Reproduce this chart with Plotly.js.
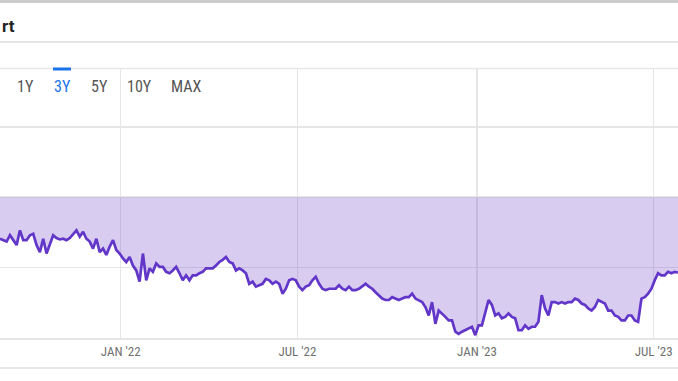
<!DOCTYPE html>
<html>
<head>
<meta charset="utf-8">
<script src="https://cdn.plot.ly/plotly-3.0.1.min.js"></script>
<style>
  html, body { margin: 0; padding: 0; background: #ffffff; }
  #chart { width: 678px; height: 381px; }
</style>
</head>
<body>
<div id="chart"></div>
<script>
// ---- data ----
const seriesStart = '2021-08-30 08:24';   // date of the first sample
const sampleStepDays = 3.4047;            // spacing of the samples
const priceValues = [
  24.1,23.9,23.7,24.6,23.9,23.2,25.3,23.9,23.9,24.6,24.8,23.2,22.2,24.1,22.0,23.2,24.6,24.2,24.0,24.1,23.9,24.2,24.8,25.3,24.4,25.1,24.1,23.7,22.7,24.1,22.2,22.7,21.8,23.0,
  23.9,22.5,22.0,21.3,20.8,21.5,20.3,19.6,18.0,22.0,18.2,19.9,19.4,20.6,20.1,20.1,19.4,19.2,19.6,20.1,19.2,18.2,18.9,18.2,18.9,18.9,19.2,19.4,19.9,19.9,19.9,20.3,20.8,21.1,
  21.5,20.8,20.6,19.6,19.9,19.6,19.2,17.7,18.0,17.3,17.5,17.7,18.4,18.2,17.7,18.0,17.7,16.3,17.0,18.2,18.4,18.2,17.3,16.8,17.3,17.5,18.2,18.7,17.7,17.0,16.8,17.0,17.0,17.0,
  17.5,17.0,16.8,17.3,16.8,16.8,17.0,17.3,17.7,17.3,17.0,16.5,16.1,15.6,15.4,15.4,15.8,15.6,15.4,15.6,15.8,15.8,16.3,15.6,15.4,15.1,14.4,13.2,15.1,12.0,13.9,13.5,13.0,12.5,
  12.5,10.9,10.6,10.9,11.1,11.3,11.6,10.4,11.8,11.8,13.7,15.4,14.7,13.2,13.5,12.8,13.0,13.5,13.0,12.8,11.1,11.1,11.8,11.3,11.6,11.6,12.3,16.1,14.2,13.2,15.1,15.1,14.9,15.1,
  14.9,15.1,15.1,15.6,15.4,14.9,14.7,14.2,13.9,14.4,15.4,15.1,14.9,13.9,13.9,13.2,13.0,12.5,12.5,13.2,13.2,12.5,12.3,15.6,15.8,16.3,17.0,18.2,19.2,18.9,18.9,19.4,19.2,19.4,19.3
];
const bandTop = 30;                        // upper edge of the shaded band
const tickDates = ['2022-01-01', '2022-07-01', '2023-01-01', '2023-07-01'];
const tickLabels = ["JAN '22", "JUL '22", "JAN '23", "JUL '23"];
const rangeButtons = ['1Y', '3Y', '5Y', '10Y', 'MAX'];
const activeButton = '3Y';
const headerText = 'rt';
const xRange = ['2021-08-30 08:24', '2023-07-25 21:50'];
const yRange = [10, 48.36];

// ---- helpers ----
function fmt(d) {
  const p = n => String(n).padStart(2, '0');
  return d.getUTCFullYear() + '-' + p(d.getUTCMonth() + 1) + '-' + p(d.getUTCDate()) + ' ' +
         p(d.getUTCHours()) + ':' + p(d.getUTCMinutes());
}
const t0 = Date.parse(seriesStart.replace(' ', 'T') + ':00Z');
const sampleDates = priceValues.map((_, i) => fmt(new Date(t0 + i * sampleStepDays * 86400000)));

const W = 678, H = 381, MT = 68, MB = 43;
const PH = H - MT - MB;
const px = x => x / W;                      // pixel -> paper x
const py = y => (H - MB - y) / PH;          // pixel -> paper y

const condensed = '"Roboto Condensed", "DejaVu Sans Condensed", "Liberation Sans Narrow", Roboto, sans-serif';

const traces = [
  {
    x: [sampleDates[0], sampleDates[sampleDates.length - 1]],
    y: [bandTop, bandTop],
    mode: 'lines', line: { width: 0, color: 'rgba(0,0,0,0)' },
    hoverinfo: 'skip', showlegend: false
  },
  {
    x: sampleDates, y: priceValues,
    mode: 'lines',
    line: { color: '#6236c8', width: 2.7 },
    fill: 'tonexty', fillcolor: 'rgba(103,58,200,0.26)',
    showlegend: false
  }
];

const btnCenters = { '1Y': 25.5, '3Y': 62, '5Y': 99, '10Y': 139, 'MAX': 186 };
const annotations = rangeButtons.map(b => ({
  text: b, xref: 'paper', yref: 'paper',
  x: px(btnCenters[b]), y: py(86), xanchor: 'center', yanchor: 'middle',
  showarrow: false,
  font: { family: condensed, size: 16, color: b === activeButton ? '#1a73e8' : '#555555' }
}));
annotations.push({
  text: '<b>' + headerText + '</b>', xref: 'paper', yref: 'paper',
  x: px(0), y: py(26), xanchor: 'left', yanchor: 'middle', showarrow: false,
  font: { family: 'Roboto, sans-serif', size: 17, color: '#222222' }
});

const shapes = [
  { type: 'rect', xref: 'paper', yref: 'paper', x0: 0, x1: 1, y0: py(0), y1: py(3),
    fillcolor: '#cccccc', line: { width: 0 } },
  { type: 'line', xref: 'paper', yref: 'paper', x0: 0, x1: 1, y0: py(42), y1: py(42),
    line: { color: '#dcdcdc', width: 1.5 } },
  { type: 'line', xref: 'paper', yref: 'paper', x0: 0, x1: 1, y0: py(68.5), y1: py(68.5),
    line: { color: '#e8e8e8', width: 1.5 } },
  { type: 'rect', xref: 'paper', yref: 'paper', x0: px(53), x1: px(71), y0: py(70.5), y1: py(67.5),
    fillcolor: '#1a73e8', line: { width: 0 } },
  { type: 'line', xref: 'paper', yref: 'paper', x0: 0, x1: 1, y0: py(368), y1: py(368),
    line: { color: '#e0e0e0', width: 1.5 } }
];

const layout = {
  width: W, height: H,
  margin: { l: 0, r: 0, t: MT, b: MB, pad: 0 },
  paper_bgcolor: '#ffffff', plot_bgcolor: '#ffffff',
  showlegend: false,
  xaxis: {
    type: 'date', range: xRange,
    tickvals: tickDates, ticktext: tickLabels,
    showgrid: true, gridcolor: '#e6e6e6', gridwidth: 1.5,
    showline: true, linecolor: '#e6e6e6', linewidth: 2,
    ticks: '', zeroline: false,
    tickfont: { family: condensed, size: 13, color: '#6f6f6f' },
    fixedrange: true
  },
  yaxis: {
    range: yRange, tick0: 10, dtick: 10,
    showgrid: true, gridcolor: '#e6e6e6', gridwidth: 1.5,
    showticklabels: false, ticks: '', zeroline: false, showline: false,
    fixedrange: true
  },
  annotations: annotations,
  shapes: shapes
};

Plotly.newPlot('chart', traces, layout, { displayModeBar: false, staticPlot: true });
</script>
</body>
</html>
